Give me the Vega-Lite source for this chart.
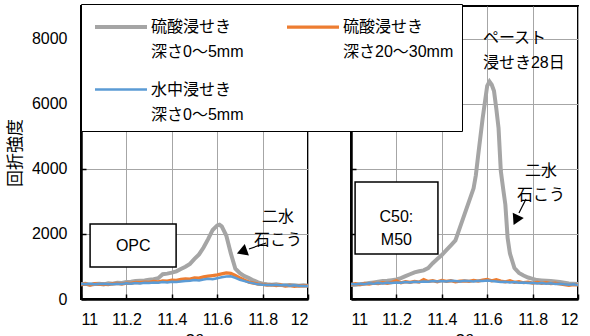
{
"$schema":"https://vega.github.io/schema/vega-lite/v6.json",
"padding":{"left":5,"top":3,"right":8,"bottom":5},
"bounds":"flush",
"spacing":43,
"config":{
 "font":"Liberation Sans, Noto Sans CJK JP",
 "view":{"stroke":"black","strokeWidth":2},
 "style":{"guide-label":{"lineHeight":25}},
 "axis":{"gridColor":"#a6a6a6","gridWidth":1,"domainColor":"black","domainWidth":2.5,"tickColor":"black","tickWidth":1.5,"tickSize":-5,"labelFontSize":16,"labelColor":"black","titleFontWeight":"normal","titleColor":"black","titleFontSize":17},
 "legend":{"orient":"none","legendX":0,"legendY":-2,"columns":2,"direction":"horizontal","symbolType":"M-2,0H2","symbolSize":676,"symbolOffset":17,"symbolStrokeWidth":3.5,"labelFontSize":16,"labelColor":"black","strokeColor":"black","fillColor":"white","padding":8,"columnPadding":36,"rowPadding":15,"labelOffset":15,"labelLimit":300,"labelBaseline":"middle"},
 "text":{"fontSize":16,"color":"black"}
},
"hconcat":[
{
"width":227,"height":293,
"layer":[
 {"data":{"values":[
{"x":11.00,"g":450,"o":440,"b":460},{"x":11.02,"g":470,"o":460,"b":450},{"x":11.04,"g":440,"o":430,"b":470},{"x":11.06,"g":460,"o":470,"b":450},{"x":11.08,"g":470,"o":450,"b":460},{"x":11.10,"g":450,"o":460,"b":470},{"x":11.12,"g":480,"o":440,"b":450},{"x":11.14,"g":470,"o":470,"b":460},{"x":11.16,"g":500,"o":480,"b":470},{"x":11.18,"g":490,"o":460,"b":460},{"x":11.20,"g":520,"o":490,"b":480},{"x":11.22,"g":530,"o":480,"b":470},{"x":11.24,"g":550,"o":510,"b":490},{"x":11.26,"g":560,"o":500,"b":480},{"x":11.28,"g":570,"o":520,"b":500},{"x":11.30,"g":590,"o":510,"b":490},{"x":11.32,"g":610,"o":540,"b":510},{"x":11.34,"g":640,"o":530,"b":500},{"x":11.36,"g":760,"o":560,"b":520},{"x":11.38,"g":780,"o":550,"b":510},{"x":11.40,"g":810,"o":580,"b":530},{"x":11.42,"g":850,"o":570,"b":520},{"x":11.44,"g":920,"o":600,"b":540},{"x":11.46,"g":990,"o":620,"b":550},{"x":11.48,"g":1080,"o":610,"b":560},{"x":11.50,"g":1230,"o":650,"b":580},{"x":11.52,"g":1370,"o":640,"b":570},{"x":11.54,"g":1580,"o":680,"b":600},{"x":11.56,"g":1840,"o":700,"b":620},{"x":11.58,"g":2120,"o":720,"b":610},{"x":11.60,"g":2260,"o":740,"b":640},{"x":11.61,"g":2280},{"x":11.62,"g":2230,"o":770,"b":670},{"x":11.64,"g":1950,"o":800,"b":690},{"x":11.66,"g":1400,"o":790,"b":700},{"x":11.68,"g":930,"o":720,"b":650},{"x":11.70,"g":790,"o":650,"b":590},{"x":11.72,"g":700,"o":580,"b":550},{"x":11.74,"g":640,"o":520,"b":510},{"x":11.76,"g":570,"o":490,"b":480},{"x":11.78,"g":510,"o":460,"b":450},{"x":11.80,"g":470,"o":450,"b":440},{"x":11.82,"g":450,"o":430,"b":430},{"x":11.84,"g":440,"o":440,"b":440},{"x":11.86,"g":450,"o":410,"b":430},{"x":11.88,"g":430,"o":430,"b":420},{"x":11.90,"g":420,"o":400,"b":430},{"x":11.92,"g":430,"o":420,"b":410},{"x":11.94,"g":420,"o":390,"b":420},{"x":11.96,"g":410,"o":410,"b":410},{"x":11.98,"g":420,"o":400,"b":400},{"x":12.00,"g":410,"o":410,"b":400}
 ]},
  "transform":[{"fold":["g","o","b"],"as":["k","y"]},{"filter":"isValid(datum.y)"}],
  "mark":{"type":"line","clip":true},
  "encoding":{
    "x":{"field":"x","type":"quantitative","scale":{"domain":[11,12],"nice":false,"zero":false},"axis":{"values":[11,11.2,11.4,11.6,11.8,12],"format":"~g","title":"2θ","labelPadding":17,"titlePadding":5,"grid":true}},
    "y":{"field":"y","type":"quantitative","scale":{"domain":[0,9000],"nice":false},"axis":{"values":[0,2000,4000,6000,8000],"format":"d","title":"回折強度","labelPadding":19,"minExtent":50,"maxExtent":50,"titlePadding":7}},
    "color":{"field":"k","type":"nominal","scale":{"domain":["g","o","b"],"range":["#A5A5A5","#ED7D31","#5B9BD5"]},"legend":{"title":null,"labelExpr":"datum.label == 'g' ? ['硫酸浸せき','深さ0～5mm'] : datum.label == 'o' ? ['硫酸浸せき','深さ20～30mm'] : ['水中浸せき','深さ0～5mm']"}},
    "strokeWidth":{"field":"k","type":"ordinal","scale":{"domain":["g","o","b"],"range":[4,2.5,3.5]},"legend":null}
  }
 },
 {"data":{"values":[{}]},"mark":{"type":"rect","fill":"white","stroke":"black","strokeWidth":1.5},"encoding":{"x":{"datum":11.04},"x2":{"datum":11.419},"y":{"datum":983},"y2":{"datum":2304}}},
 {"data":{"values":[{}]},"mark":{"type":"text","fontSize":16},"encoding":{"x":{"datum":11.23},"y":{"datum":1640},"text":{"value":"OPC"}}},
 {"data":{"values":[{}]},"mark":{"type":"text","fontSize":16,"lineBreak":"\n","lineHeight":23},"encoding":{"x":{"datum":11.868},"y":{"datum":2504},"text":{"value":"二水\n石こう"}}},
 {"data":{"values":[{}]},"mark":{"type":"rule","color":"black","strokeWidth":1.2},"encoding":{"x":{"datum":11.815},"y":{"datum":1720},"x2":{"datum":11.74},"y2":{"datum":1536}}},
 {"data":{"values":[{}]},"mark":{"type":"point","shape":"triangle","filled":true,"color":"black","opacity":1,"size":150,"angle":250},"encoding":{"x":{"datum":11.716},"y":{"datum":1475}}}
]
},
{
"width":227,"height":293,
"layer":[
 {"data":{"values":[
{"x":11.00,"g":430,"o":450,"b":460},{"x":11.02,"g":440,"o":470,"b":450},{"x":11.04,"g":450,"o":440,"b":470},{"x":11.06,"g":470,"o":480,"b":460},{"x":11.08,"g":490,"o":460,"b":480},{"x":11.10,"g":510,"o":490,"b":470},{"x":11.12,"g":530,"o":470,"b":490},{"x":11.14,"g":550,"o":500,"b":480},{"x":11.16,"g":560,"o":480,"b":500},{"x":11.18,"g":580,"o":510,"b":490},{"x":11.20,"g":600,"o":560,"b":510},{"x":11.22,"g":640,"o":500,"b":500},{"x":11.24,"g":700,"o":530,"b":520},{"x":11.26,"g":760,"o":510,"b":510},{"x":11.28,"g":820,"o":540,"b":530},{"x":11.30,"g":850,"o":520,"b":520},{"x":11.32,"g":880,"o":600,"b":540},{"x":11.34,"g":950,"o":540,"b":530},{"x":11.36,"g":1100,"o":560,"b":550},{"x":11.38,"g":1230,"o":530,"b":540},{"x":11.40,"g":1350,"o":570,"b":550},{"x":11.42,"g":1500,"o":540,"b":540},{"x":11.44,"g":1650,"o":560,"b":560},{"x":11.46,"g":1800,"o":530,"b":550},{"x":11.48,"g":2200,"o":550,"b":540},{"x":11.50,"g":2600,"o":560,"b":560},{"x":11.52,"g":3000,"o":540,"b":550},{"x":11.54,"g":3400,"o":570,"b":540},{"x":11.55,"g":3800},{"x":11.56,"g":4400,"o":550,"b":560},{"x":11.58,"g":5550,"o":580,"b":550},{"x":11.60,"g":6550,"o":600,"b":570},{"x":11.61,"g":6680},{"x":11.62,"g":6580,"o":560,"b":550},{"x":11.63,"g":6390},{"x":11.64,"g":5850,"o":590,"b":540},{"x":11.65,"g":5250},{"x":11.66,"g":3930,"o":550,"b":520},{"x":11.67,"g":3400},{"x":11.68,"g":2900,"o":530,"b":530},{"x":11.69,"g":1870},{"x":11.70,"g":1400,"o":560,"b":510},{"x":11.72,"g":950,"o":510,"b":520},{"x":11.74,"g":800,"o":530,"b":500},{"x":11.76,"g":720,"o":500,"b":510},{"x":11.78,"g":660,"o":520,"b":490},{"x":11.80,"g":620,"o":490,"b":500},{"x":11.82,"g":580,"o":510,"b":480},{"x":11.84,"g":570,"o":480,"b":490},{"x":11.86,"g":560,"o":500,"b":470},{"x":11.88,"g":550,"o":470,"b":480},{"x":11.90,"g":540,"o":490,"b":460},{"x":11.92,"g":520,"o":460,"b":470},{"x":11.94,"g":500,"o":440,"b":450},{"x":11.96,"g":480,"o":420,"b":440},{"x":11.98,"g":470,"o":440,"b":450},{"x":12.00,"g":460,"o":430,"b":430}
 ]},
  "transform":[{"fold":["g","o","b"],"as":["k","y"]},{"filter":"isValid(datum.y)"}],
  "mark":{"type":"line","clip":true},
  "encoding":{
    "x":{"field":"x","type":"quantitative","scale":{"domain":[11,12],"nice":false,"zero":false},"axis":{"values":[11,11.2,11.4,11.6,11.8,12],"format":"~g","title":"2θ","labelPadding":17,"titlePadding":5,"grid":true}},
    "y":{"field":"y","type":"quantitative","scale":{"domain":[0,9000],"nice":false},"axis":{"values":[0,2000,4000,6000,8000],"labels":false,"title":null}},
    "color":{"field":"k","type":"nominal","scale":{"domain":["g","o","b"],"range":["#A5A5A5","#ED7D31","#5B9BD5"]},"legend":{"title":null,"labelExpr":"datum.label == 'g' ? ['硫酸浸せき','深さ0～5mm'] : datum.label == 'o' ? ['硫酸浸せき','深さ20～30mm'] : ['水中浸せき','深さ0～5mm']"}},
    "strokeWidth":{"field":"k","type":"ordinal","scale":{"domain":["g","o","b"],"range":[4,2.5,3.5]},"legend":null}
  }
 },
 {"data":{"values":[{}]},"mark":{"type":"rect","fill":"white","stroke":"black","strokeWidth":1.5},"encoding":{"x":{"datum":11.018},"x2":{"datum":11.383},"y":{"datum":1382},"y2":{"datum":3594}}},
 {"data":{"values":[{}]},"mark":{"type":"text","fontSize":16,"lineBreak":"\n","lineHeight":23},"encoding":{"x":{"datum":11.2},"y":{"datum":2504},"text":{"value":"C50:\nM50"}}},
 {"data":{"values":[{}]},"mark":{"type":"text","fontSize":16,"lineBreak":"\n","lineHeight":24},"encoding":{"x":{"datum":11.837},"y":{"datum":3932},"text":{"value":"二水\n石こう"}}},
 {"data":{"values":[{}]},"mark":{"type":"text","fontSize":16,"align":"left","lineBreak":"\n","lineHeight":25},"encoding":{"x":{"datum":11.581},"y":{"datum":8003},"text":{"value":"ペースト\n浸せき28日"}}},
 {"data":{"values":[{}]},"mark":{"type":"rule","color":"black","strokeWidth":1.2},"encoding":{"x":{"datum":11.771},"y":{"datum":3072},"x2":{"datum":11.74},"y2":{"datum":2642}}},
 {"data":{"values":[{}]},"mark":{"type":"point","shape":"triangle","filled":true,"color":"black","opacity":1,"size":150,"angle":206},"encoding":{"x":{"datum":11.73},"y":{"datum":2470}}}
]
}
]
}
